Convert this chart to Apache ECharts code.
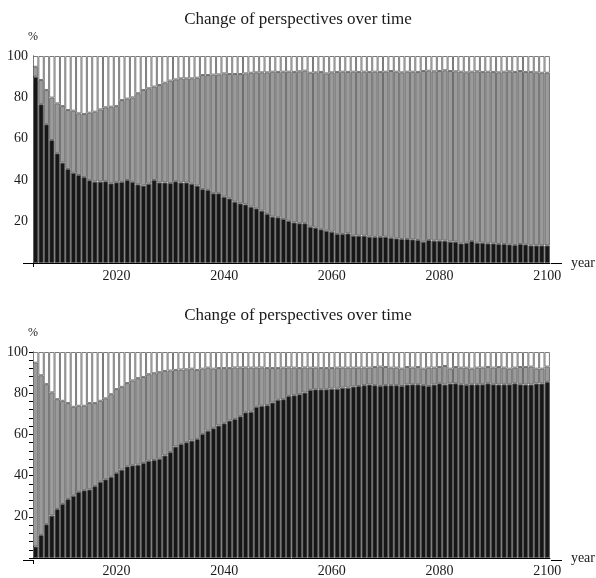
<!DOCTYPE html>
<html>
<head>
<meta charset="utf-8">
<script src="https://cdn.jsdelivr.net/npm/echarts@6/dist/echarts.min.js"></script>
<style>
  html, body { margin: 0; padding: 0; background: #fff; }
  #chart { width: 596px; height: 578px; }
</style>
</head>
<body>
<div id="chart"></div>
<script>
// ---- data ----
const years = [];
for (let y = 2005; y <= 2100; y++) years.push(String(y));
const tickYears = [2020, 2040, 2060, 2080, 2100];
const chartTitle = 'Change of perspectives over time';

// top panel: dark share and dark+grey cumulative share (%)
const topBlack = [90.0, 76.7, 67.0, 59.4, 53.0, 48.5, 45.4, 43.6, 42.5, 41.5,
  40.0, 39.3, 39.3, 39.5, 38.5, 39.0, 39.2, 40.1, 39.2, 38.0,
  37.4, 38.3, 40.1, 38.9, 38.9, 38.6, 39.5, 38.9, 38.9, 38.3,
  37.4, 35.7, 35.3, 33.7, 33.7, 32.0, 31.2, 29.6, 28.8, 28.3,
  27.2, 26.4, 25.3, 23.7, 22.4, 22.1, 21.3, 20.4, 19.6, 19.2,
  19.2, 17.5, 17.1, 16.3, 15.6, 15.1, 14.0, 14.0, 14.3, 13.2,
  13.2, 13.2, 12.7, 12.6, 12.6, 12.7, 12.2, 11.9, 11.6, 11.6,
  11.4, 11.1, 10.3, 11.1, 10.8, 10.8, 10.8, 10.3, 10.3, 9.5,
  9.8, 10.6, 9.8, 9.8, 9.5, 9.5, 9.2, 9.2, 9.0, 8.7,
  9.2, 9.0, 8.5, 8.5, 8.5, 8.5];
const topTotal = [94.8, 88.4, 83.6, 79.9, 77.1, 75.8, 73.9, 73.6, 72.3, 72.0,
  72.6, 73.1, 74.2, 75.2, 75.5, 75.8, 78.7, 79.4, 80.0, 82.0,
  83.6, 84.4, 85.2, 86.0, 87.1, 88.1, 88.7, 89.2, 89.2, 89.2,
  89.5, 90.8, 90.8, 91.0, 91.1, 91.6, 91.3, 91.3, 91.3, 91.6,
  91.9, 92.1, 92.1, 92.1, 92.4, 92.3, 92.4, 92.4, 92.3, 92.6,
  92.9, 91.9, 92.1, 92.3, 91.6, 92.1, 92.3, 92.4, 92.3, 92.4,
  92.3, 92.4, 92.3, 92.4, 92.3, 92.4, 92.75, 92.4, 92.1, 92.4,
  92.4, 92.3, 92.75, 92.9, 92.6, 92.75, 93.1, 92.75, 92.6, 92.4,
  92.1, 92.4, 92.6, 92.3, 92.4, 92.3, 92.1, 92.4, 92.6, 92.3,
  92.75, 92.3, 92.3, 92.1, 91.9, 91.9];

// bottom panel
const bottomBlack = [5.6, 11.2, 16.4, 20.6, 23.8, 26.2, 28.6, 30.2, 32.1, 32.9,
  33.3, 34.9, 37.0, 38.2, 39.4, 41.3, 42.9, 44.5, 45.0, 45.3,
  46.1, 47.2, 47.6, 48.2, 49.8, 51.4, 54.1, 55.4, 56.2, 57.0,
  57.8, 60.2, 61.8, 63.0, 64.3, 65.4, 66.7, 67.5, 68.8, 70.7,
  71.0, 73.4, 73.9, 74.2, 75.5, 76.8, 77.1, 78.7, 79.0, 79.5,
  80.3, 81.6, 81.9, 81.9, 81.9, 82.2, 82.2, 82.7, 82.7, 83.2,
  83.5, 83.9, 84.2, 83.9, 83.5, 83.9, 83.9, 83.9, 83.5, 84.2,
  84.3, 84.3, 83.9, 83.5, 84.2, 84.8, 84.2, 84.7, 84.8, 84.3,
  84.0, 84.3, 84.3, 84.3, 84.8, 84.3, 84.2, 84.3, 84.3, 84.8,
  84.3, 84.2, 84.2, 84.7, 84.7, 85.5];
const bottomTotal = [94.8, 88.7, 84.4, 80.4, 77.1, 76.3, 75.2, 73.4, 73.9, 73.9,
  75.2, 75.2, 76.3, 77.5, 79.5, 82.0, 83.1, 84.9, 86.2, 87.3,
  87.9, 89.2, 89.7, 90.2, 90.8, 91.0, 91.3, 91.5, 91.6, 91.9,
  91.3, 91.9, 92.4, 91.9, 92.2, 92.2, 92.2, 92.5, 92.5, 92.5,
  92.4, 92.4, 92.5, 92.2, 92.2, 92.2, 92.4, 92.5, 92.4, 92.2,
  92.5, 92.4, 92.4, 92.2, 92.2, 92.2, 92.4, 92.4, 92.4, 92.4,
  92.4, 92.4, 92.4, 92.7, 92.9, 92.7, 92.4, 92.4, 91.9, 92.7,
  92.4, 92.7, 91.9, 92.4, 92.4, 92.7, 93.2, 91.9, 92.7, 92.4,
  92.4, 91.9, 92.4, 92.4, 92.7, 92.4, 92.7, 92.4, 91.9, 92.4,
  92.7, 92.7, 92.9, 91.9, 91.9, 92.9];

// ---- chart ----
const FONT = "'Liberation Serif', 'DejaVu Serif', serif";
const TXT = '#1a1a1a';
const grids = [
  { left: 33, top: 56, width: 518, height: 207 },
  { left: 33, top: 352, width: 518, height: 208 }
];

function xAxisFor(i) {
  return {
    type: 'category', gridIndex: i, data: years,
    boundaryGap: true,
    axisLine: { show: true, lineStyle: { color: '#000', width: 1 } },
    axisTick: { show: false },
    axisLabel: {
      interval: 0,
      formatter: v => tickYears.indexOf(+v) >= 0 ? v : '',
      fontFamily: FONT, fontSize: 14, color: TXT, margin: 6
    },
    name: 'year', nameLocation: 'end', nameGap: 21,
    nameTextStyle: { fontFamily: FONT, fontSize: 14, color: TXT }
  };
}
function yAxisFor(i, ticks) {
  return {
    type: 'value', gridIndex: i, min: 0, max: 100, interval: 20,
    axisLine: { show: true, lineStyle: { color: '#000', width: 1 } },
    axisTick: { show: ticks, length: 4, lineStyle: { color: '#000' } },
    minorTick: { show: ticks, splitNumber: 5, length: 4, lineStyle: { color: '#000' } },
    splitLine: { show: false },
    axisLabel: {
      showMinLabel: false, fontFamily: FONT, fontSize: 14, color: TXT, margin: 5
    },
    name: '%', nameLocation: 'end', nameGap: 13,
    nameTextStyle: { fontFamily: FONT, fontSize: 12, color: TXT, align: 'center' }
  };
}
function seriesFor(i, black, total) {
  const grey = total.map((t, k) => +(t - black[k]).toFixed(2));
  const white = total.map(t => +(100 - t).toFixed(2));
  const base = { type: 'bar', stack: 's' + i, xAxisIndex: i, yAxisIndex: i,
    barCategoryGap: 0, barGap: 0, animation: false, silent: true };
  return [
    Object.assign({}, base, { data: black,
      itemStyle: { color: '#161616', borderColor: '#5e5e5e', borderWidth: 1 } }),
    Object.assign({}, base, { data: grey,
      itemStyle: { color: '#9b9b9b', borderColor: '#6e6e6e', borderWidth: 1 } }),
    Object.assign({}, base, { data: white,
      itemStyle: { color: '#ffffff', borderColor: '#7a7a7a', borderWidth: 1 } })
  ];
}

function axisExtras(g) {
  const y = g.top + g.height;
  const x0 = g.left, x1 = g.left + g.width;
  const st = { stroke: '#000', lineWidth: 1 };
  return [
    { type: 'line', shape: { x1: x0 - 10, y1: y + 0.5, x2: x0, y2: y + 0.5 }, style: st, silent: true },
    { type: 'line', shape: { x1: x1, y1: y + 0.5, x2: x1 + 11, y2: y + 0.5 }, style: st, silent: true },
    { type: 'line', shape: { x1: x0 + 0.5, y1: y, x2: x0 + 0.5, y2: y + 4 }, style: st, silent: true }
  ];
}

const chart = echarts.init(document.getElementById('chart'), null, { renderer: 'canvas' });
chart.setOption({
  backgroundColor: '#fff',
  animation: false,
  title: [
    { text: chartTitle, left: 'center', top: 6,
      textStyle: { fontFamily: FONT, fontSize: 17, fontWeight: 'normal', color: TXT } },
    { text: chartTitle, left: 'center', top: 302,
      textStyle: { fontFamily: FONT, fontSize: 17, fontWeight: 'normal', color: TXT } }
  ],
  grid: grids,
  xAxis: [xAxisFor(0), xAxisFor(1)],
  yAxis: [yAxisFor(0, false), yAxisFor(1, true)],
  series: [].concat(seriesFor(0, topBlack, topTotal), seriesFor(1, bottomBlack, bottomTotal)),
  graphic: [].concat(axisExtras(grids[0]), axisExtras(grids[1]))
});
</script>
</body>
</html>
